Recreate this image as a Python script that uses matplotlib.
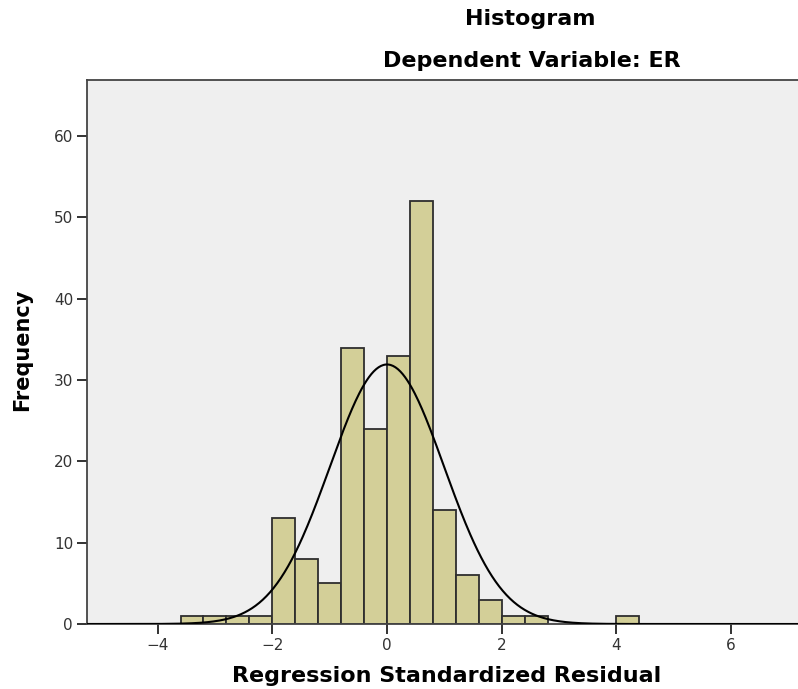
import numpy as np
import matplotlib.pyplot as plt

# bin edges (width 0.4) and counts
bin_left = [-3.6, -3.2, -2.8, -2.4, -2.0, -1.6, -1.2, -0.8, -0.4, 0.0,
            0.4, 0.8, 1.2, 1.6, 2.0, 2.4, 4.0]
counts = [1, 1, 1, 1, 13, 8, 5, 34, 24, 33, 52, 14, 6, 3, 1, 1, 1]
bin_width = 0.4

# normal curve parameters
mean = 0.0
std_dev = 0.995
n_obs = 199

xticks = [-4, -2, 0, 2, 4, 6]
yticks = [0, 10, 20, 30, 40, 50, 60]

plt.rcParams['font.family'] = ['DejaVu Sans']

fig = plt.figure(figsize=(7.98, 6.89), dpi=100)
# axes placed in pixels: left 87, right beyond the image, top 80, bottom 624
ax = fig.add_axes([87 / 798, 65 / 689, 715 / 798, 544 / 689])
ax.set_facecolor('#EFEFEF')

ax.bar(bin_left, counts, width=bin_width, align='edge',
       color='#D3CF98', edgecolor='#2E2E2E', linewidth=1.3, zorder=2)

xs = np.linspace(-5.3, 7.3, 600)
curve = n_obs * bin_width / (std_dev * np.sqrt(2 * np.pi)) * np.exp(-0.5 * ((xs - mean) / std_dev) ** 2)
ax.plot(xs, curve, color='black', linewidth=1.5, zorder=3)

ax.set_xlim(-5.231, 7.236)
ax.set_ylim(0, 66.9)
ax.set_xticks(xticks)
ax.set_xticklabels(['\u22124', '\u22122', '0', '2', '4', '6'])
ax.set_yticks(yticks)
ax.tick_params(axis='both', direction='out', length=7, width=1.3,
               color='#222222', labelcolor='#333333', labelsize=11, pad=3)

for side in ['left', 'bottom', 'top']:
    ax.spines[side].set_color('#444444')
    ax.spines[side].set_linewidth(1.3)
ax.spines['right'].set_visible(False)

# axis titles placed like the SPSS output
fig.text(447 / 798, 1 - 676 / 689, 'Regression Standardized Residual',
         ha='center', va='center', fontsize=16, fontweight='bold')
fig.text(22 / 798, 1 - 350 / 689, 'Frequency', ha='center', va='center',
         rotation=90, fontsize=15, fontweight='bold')

fig.text(530 / 798, 1 - 19 / 689, 'Histogram', ha='center', va='center',
         fontsize=16, fontweight='bold')
fig.text(532 / 798, 1 - 61 / 689, 'Dependent Variable: ER', ha='center',
         va='center', fontsize=16, fontweight='bold')

plt.savefig('out.png', dpi=100)
